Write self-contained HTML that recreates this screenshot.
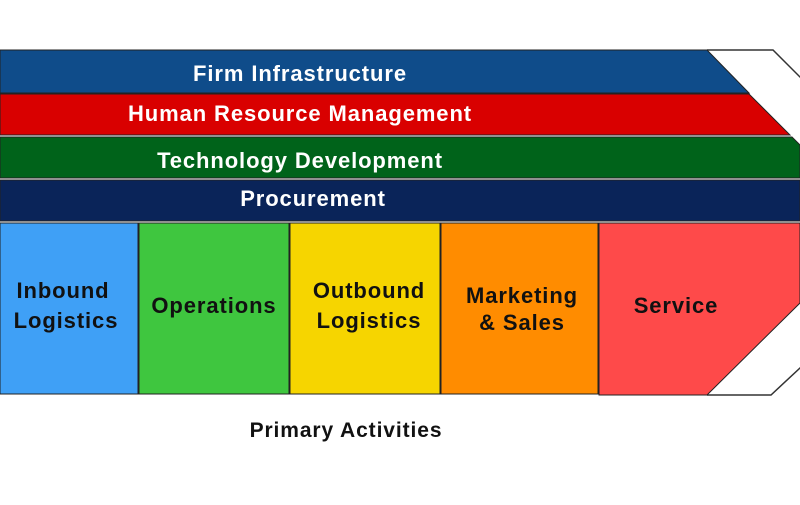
<!DOCTYPE html>
<html><head><meta charset="utf-8"><style>
body{margin:0;width:800px;height:500px;overflow:hidden;background:#fff}
svg text{font-family:"Liberation Sans",sans-serif;font-weight:bold;letter-spacing:0.9px}
</style></head><body>
<svg width="800" height="500" viewBox="0 0 800 500">
<polygon points="707,50 773,50 830,107 830,340 771,395 707,395" fill="#fff" stroke="none"/>
<polyline points="707,50 773,50 830,107" fill="none" stroke="#333" stroke-width="1.5"/>
<polyline points="830,340 771,395 707,395" fill="none" stroke="#333" stroke-width="1.5"/>
<polygon points="0,50 707,50 749,93 0,93" fill="#0f4c8a" stroke="#222" stroke-width="1"/>
<polygon points="0,94 749,94 790,135 0,135" fill="#d90000" stroke="#222" stroke-width="1"/>
<polygon points="0,137 792,137 800,145 800,178 0,178" fill="#00631a" stroke="#222" stroke-width="1"/>
<rect x="0" y="180" width="800" height="41" fill="#0a2459" stroke="#222" stroke-width="1"/>
<rect x="0" y="223" width="138" height="171" fill="#3fa0f6" stroke="#222" stroke-width="1"/>
<rect x="139" y="223" width="150" height="171" fill="#3fc63f" stroke="#222" stroke-width="1"/>
<rect x="290" y="223" width="150" height="171" fill="#f6d500" stroke="#222" stroke-width="1"/>
<rect x="441" y="223" width="157" height="171" fill="#ff8c00" stroke="#222" stroke-width="1"/>
<polygon points="599,223 800,223 800,303 707,395 599,395" fill="#fe4a4a" stroke="#222" stroke-width="1"/>
<g fill="#fff" font-size="22" text-anchor="middle">
<text x="300" y="81">Firm Infrastructure</text>
<text x="300" y="121">Human Resource Management</text>
<text x="300" y="168">Technology Development</text>
<text x="313" y="206">Procurement</text>
</g>
<g fill="#111" font-size="22" text-anchor="middle">
<text x="63" y="298">Inbound</text><text x="66" y="328">Logistics</text>
<text x="214" y="313">Operations</text>
<text x="369" y="298">Outbound</text><text x="369" y="328">Logistics</text>
<text x="522" y="303">Marketing</text><text x="522" y="330">&amp; Sales</text>
<text x="676" y="313">Service</text>
<text x="346" y="437" font-size="21">Primary Activities</text>
</g>
</svg>
</body></html>
